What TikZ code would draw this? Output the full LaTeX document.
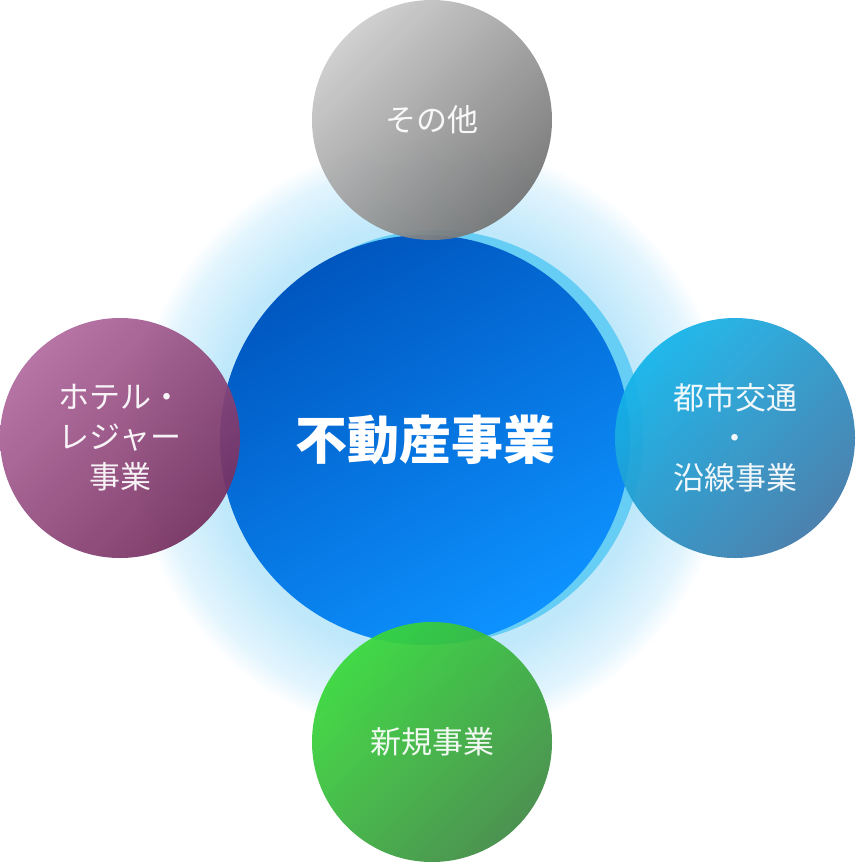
\documentclass[tikz,border=0pt]{standalone}
\usepackage{fontspec}
\setmainfont{Noto Sans CJK JP}
\usetikzlibrary{positioning}
\definecolor{glowblue}{HTML}{BFE8FB}
\definecolor{hotelA}{HTML}{B06A9E}
\definecolor{hotelB}{HTML}{763060}
\definecolor{newA}{HTML}{38D83A}
\definecolor{newB}{HTML}{3E8A44}
\definecolor{cityA}{HTML}{14B4EA}
\definecolor{cityB}{HTML}{3E78A8}
\pgfdeclareradialshading{glow}{\pgfpoint{0cm}{0cm}}{%
  color(0bp)=(glowblue); color(18bp)=(glowblue);
  color(23bp)=(glowblue!45); color(25bp)=(white)}
\begin{document}
\begin{tikzpicture}[x=1pt,y=-1pt,
    sub node/.style={circle, minimum size=240pt, inner sep=0pt, text=white,
      font=\fontsize{31}{40}\selectfont, align=center, opacity=0.93},
    main node/.style={circle, minimum size=410pt, inner sep=0pt, text=white,
      font=\fontsize{52}{60}\selectfont\bfseries},
    ]
    \useasboundingbox (0,0) rectangle (856,862);

    \shade[shading=glow] (430,440) circle (300);
    \fill[cyan!60!white] (436,437) circle (207);
    \node[main node, top color=blue!55!cyan!75!black, bottom color=blue!45!cyan!95,
      shading angle=30] (main) at (425,440) {不動産事業};

    \node[sub node, top color=gray!40, bottom color=gray!90!black, shading angle=45] (other) at (432,120) {その他};
    \node[sub node, top color=hotelA, bottom color=hotelB, shading angle=45] (hotel) at (120,438) {ホテル・\\レジャー\\事業};
    \node[sub node, top color=cityA, bottom color=cityB, shading angle=45] (city) at (735,438) {都市交通\\・\\沿線事業};
    \node[sub node, top color=newA, bottom color=newB, shading angle=45] (new) at (432,742) {新規事業};
\end{tikzpicture}
\end{document}
